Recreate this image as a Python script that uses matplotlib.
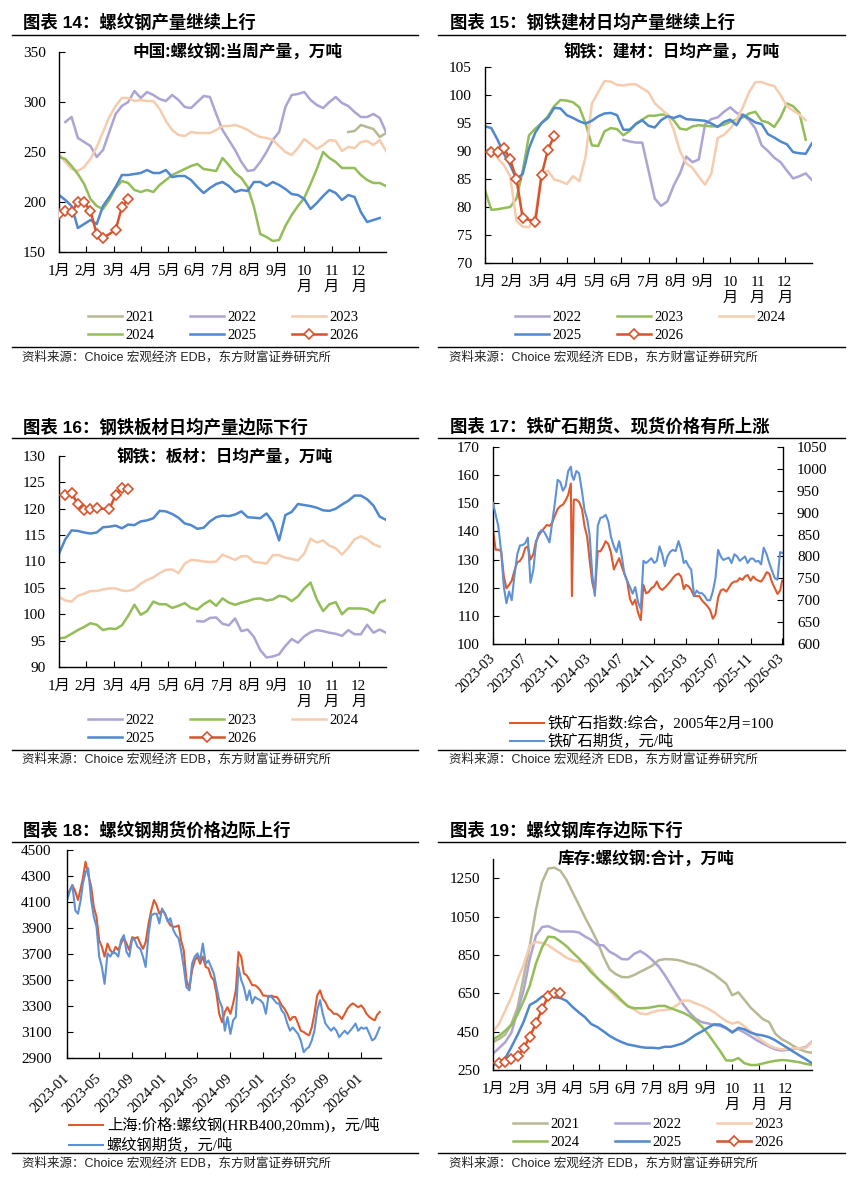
import numpy as np
import pandas as pd
import matplotlib
matplotlib.use('Agg')
import matplotlib.pyplot as plt
from matplotlib.lines import Line2D
from matplotlib.font_manager import FontProperties

W, H = 861, 1182
SERIF = ['Liberation Serif', 'Noto Sans CJK SC']
SANS = ['Liberation Sans', 'Noto Sans CJK SC']
CJK = ['Noto Sans CJK SC', 'Liberation Serif']
plt.rcParams['font.family'] = SERIF
plt.rcParams['axes.unicode_minus'] = False

# ---------------- data ----------------
MONTHS = ['1月', '2月', '3月', '4月', '5月', '6月', '7月', '8月', '9月', '10\n月', '11\n月', '12\n月']
SOURCE = '资料来源：Choice 宏观经济 EDB，东方财富证券研究所'

# Figure 14: rebar weekly output (10k t), weekly index from week 0
p14_2021 = [None] * 46 + [270, 271, 277, 275, 273, 265, 269]
p14_2022 = [None, 280, 285, 264, 260, 256, 245, 252, 270, 288, 296, 300, 311, 304, 310, 307, 303, 301, 307, 302,
            295, 294, 300, 306, 305, 288, 272, 262, 252, 240, 231, 232, 240, 250, 262, 270, 295, 307, 308, 310,
            302, 297, 294, 300, 305, 299, 296, 290, 285, 285, 288, 284, 270]
p14_2023 = [248, 240, 233, 231, 235, 243, 255, 270, 285, 296, 304, 304, 301, 302, 301, 301, 293, 281, 272, 267,
            266, 270, 269, 269, 269, 272, 276, 276, 277, 275, 272, 268, 265, 264, 262, 256, 250, 247, 254, 263,
            258, 253, 257, 262, 261, 251, 255, 254, 260, 261, 257, 262, 251]
p14_2024 = [245, 243, 236, 228, 218, 203, 196, 193, 202, 214, 221, 219, 212, 210, 212, 210, 217, 222, 227, 230,
            233, 236, 238, 233, 232, 231, 244, 237, 229, 224, 215, 195, 168, 165, 161, 162, 176, 187, 196, 204,
            218, 233, 250, 244, 240, 234, 234, 234, 227, 222, 219, 219, 216]
p14_2025 = [207, 202, 196, 174, 178, 182, 178, 196, 205, 215, 227, 227, 228, 229, 232, 229, 229, 232, 225, 226,
            226, 222, 215, 209, 214, 218, 220, 216, 210, 212, 211, 220, 220, 216, 220, 217, 213, 208, 207, 203,
            193, 199, 206, 212, 209, 202, 207, 205, 190, 180, 182, 184]
p14_2026 = [188, 191, 190, 200, 200, 191, 168, 164, None, 172, 195, 203]

# Figure 15: construction steel daily output (10k t)
p15_2022 = [None] * 22 + [92.0, 91.7, 91.5, 91.5, 86.5, 81.5, 80.2, 81.0, 83.8, 86.0, 89.0, 88.0, 88.5, 94.8,
                          95.7, 96.0, 97.0, 97.8, 96.8, 96.4, 95.5, 94.0, 91.0, 90.0, 88.8, 88.0, 86.5, 85.1,
                          85.5, 86.0, 84.8]
p15_2023 = [83.0, 79.5, 79.6, 79.8, 80.0, 81.5, 86.5, 92.8, 94.0, 95.0, 96.2, 98.0, 99.1, 99.0, 98.7, 97.8, 94.9,
            91.0, 90.9, 93.5, 94.1, 93.9, 92.8, 93.6, 94.9, 95.6, 96.3, 96.3, 96.5, 96.5, 95.5, 94.0, 93.8, 94.4,
            94.6, 94.5, 94.4, 94.4, 94.7, 95.2, 95.6, 96.0, 96.7, 97.0, 95.4, 95.1, 94.3, 96.0, 98.5, 98.0, 96.8,
            92.0]
p15_2024 = [90.0, 90.6, 88.7, 87.5, 85.5, 77.5, 76.5, 76.4, 78.5, 86.0, 86.5, 84.9, 84.6, 84.1, 85.5, 84.6, 89.0,
            98.5, 100.5, 102.5, 102.4, 101.8, 101.7, 101.9, 101.9, 101.2, 100.5, 98.5, 97.5, 96.5, 93.8, 90.0,
            87.8, 87.0, 85.4, 84.0, 86.0, 92.3, 92.9, 94.0, 95.5, 97.8, 100.5, 102.3, 102.3, 101.9, 101.6, 100.0,
            98.0, 97.2, 96.5, 95.5]
p15_2025 = [94.4, 94.1, 92.0, 89.5, 87.5, 85.0, 85.9, 90.5, 93.3, 95.0, 95.9, 97.7, 97.6, 96.4, 95.9, 95.3, 94.9,
            95.4, 96.2, 96.7, 96.8, 96.4, 93.8, 93.8, 94.8, 95.5, 94.5, 94.2, 95.5, 96.2, 95.9, 96.3, 95.7, 95.6,
            95.5, 95.4, 94.9, 94.3, 95.2, 95.6, 94.6, 96.5, 95.8, 95.1, 94.8, 93.0, 92.4, 91.7, 91.2, 89.8, 89.6,
            89.5, 91.4]
p15_2026 = [None, 89.8, 89.9, 90.5, 88.5, 85.0, 78.0, None, 77.4, 85.7, 90.2, 92.7]

# Figure 16: plate daily output (10k t)
p16_2022 = [None] * 22 + [98.7, 98.6, 99.3, 99.4, 98.2, 97.9, 99.2, 96.8, 97.1, 95.7, 93.2, 91.8, 92.0, 92.4,
                          94.0, 95.3, 94.6, 95.8, 96.6, 97.0, 96.8, 96.5, 96.3, 95.9, 97.0, 96.2, 96.2, 98.0,
                          96.5, 97.1, 96.5]
p16_2023 = [95.4, 95.6, 96.3, 97.0, 97.6, 98.3, 98.0, 97.0, 97.3, 97.2, 97.9, 99.7, 101.8, 99.9, 100.6, 102.4,
            101.9, 101.9, 101.2, 101.6, 102.1, 101.2, 100.9, 101.9, 102.6, 101.6, 103.0, 102.2, 101.8, 102.2,
            102.5, 102.9, 103.0, 102.6, 102.8, 103.5, 103.3, 102.5, 103.4, 104.9, 106.0, 102.8, 100.6, 101.9,
            102.3, 100.0, 101.1, 101.1, 101.1, 100.9, 100.2, 102.2, 102.7]
p16_2024 = [103.3, 102.6, 102.4, 103.5, 103.9, 104.4, 104.4, 104.7, 104.9, 104.9, 104.5, 104.4, 104.8, 105.8,
            106.5, 107.0, 107.8, 108.4, 108.5, 107.8, 109.6, 110.3, 110.2, 110.0, 109.9, 110.0, 111.3, 110.8,
            110.3, 111.0, 111.0, 109.9, 109.8, 109.6, 111.2, 111.2, 110.7, 110.5, 110.2, 111.5, 114.3, 113.6,
            114.0, 113.0, 112.5, 111.3, 112.6, 114.2, 114.8, 114.2, 113.3, 112.8]
p16_2025 = [111.5, 114.2, 115.9, 115.8, 115.5, 115.3, 115.5, 116.5, 116.6, 116.8, 116.3, 117.0, 116.9, 117.6,
            117.8, 118.2, 119.6, 119.5, 119.0, 118.3, 117.2, 116.9, 116.2, 116.4, 117.6, 118.4, 118.7, 118.6,
            118.9, 119.5, 118.4, 118.3, 118.2, 119.1, 117.5, 114.0, 118.8, 119.4, 120.9, 120.7, 120.5, 120.2,
            119.7, 119.6, 120.0, 120.8, 121.5, 122.5, 122.5, 121.8, 120.6, 118.5, 117.9]
p16_2026 = [None, 122.6, 122.9, 120.9, 119.7, 119.9, 120.1, None, 119.9, 122.6, 123.9, 123.7]

# Figure 19: rebar inventory (10k t)
p19_2021 = [395, 412, 435, 490, 575, 737, 900, 1085, 1230, 1300, 1305, 1288, 1240, 1175, 1111, 1045, 985, 920,
            841, 775, 750, 735, 733, 745, 762, 778, 795, 822, 828, 827, 824, 816, 805, 798, 785, 768, 750, 725,
            700, 640, 655, 615, 575, 545, 515, 500, 440, 412, 395, 375, 358, 345, 340]
p19_2022 = [335, 365, 395, 445, 555, 667, 830, 950, 995, 1000, 985, 972, 972, 972, 967, 946, 928, 902, 900, 867,
            850, 828, 827, 855, 870, 850, 822, 790, 745, 693, 641, 592, 550, 518, 500, 493, 485, 480, 467, 450,
            462, 445, 426, 405, 388, 372, 358, 352, 355, 360, 363, 370, 398]
p19_2023 = [450, 492, 560, 630, 720, 800, 900, 918, 912, 900, 878, 857, 835, 822, 815, 806, 775, 728, 695, 665,
            630, 605, 582, 565, 545, 540, 552, 560, 563, 567, 589, 612, 612, 597, 586, 570, 552, 528, 505, 492,
            500, 478, 450, 425, 400, 378, 365, 358, 360, 363, 363, 365, 395]
p19_2024 = [410, 428, 455, 485, 540, 610, 690, 805, 890, 945, 942, 920, 895, 862, 832, 797, 760, 730, 700, 672,
            645, 612, 582, 572, 572, 573, 578, 584, 584, 572, 560, 548, 532, 508, 478, 440, 395, 350, 300, 299,
            312, 285, 276, 276, 284, 292, 298, 302, 300, 295, 290, 282, 276]
p19_2025 = [276, 285, 311, 370, 433, 502, 589, 607, 633, 636, 630, 625, 610, 578, 550, 525, 490, 474, 452, 428,
            410, 395, 383, 377, 370, 366, 366, 363, 371, 371, 380, 390, 410, 433, 450, 470, 488, 487, 470, 445,
            470, 462, 445, 435, 430, 421, 405, 385, 365, 345, 325, 306, 285]
p19_2026 = [None, 288, 293, 306, 323, 363, 424, 493, 567, 636, 653, 653]

# Figure 17: iron ore index (left) and futures (right), sampled on days 1/11/21
p17_months = [str(p) for p in pd.period_range('2023-03', '2026-02', freq='M')]
p17_dates = [f'{m}-{d:02d}' for m in p17_months for d in (1, 11, 21)] + ['2026-03-01']
p17_dates.insert(p17_dates.index('2023-12-21') + 1, '2023-12-25')
p17_index = [140.6, 133.5, 133.5, 133.0, 124.0, 119.8, 121.0, 122.5, 126.0, 129.0, 129.5, 131.0,
             134.1, 134.7, 130.0, 132.0, 136.5, 138.5, 140.0, 141.2, 142.3, 142.0, 143.0, 145.5,
             148.0, 149.0, 149.5, 151.0, 153.0, 157.0, 117.0, 151.3, 151.3, 150.5, 148.0, 141.8, 138.0,
             130.0, 122.0, 118.0, 133.0, 132.9, 134.5, 136.5, 135.5, 132.5, 126.5, 128.5, 130.5,
             127.5, 125.0, 122.5, 116.0, 114.0, 115.7, 111.0, 108.5, 121.0, 118.0, 118.5, 119.8,
             120.5, 122.2, 120.0, 119.2, 120.0, 121.0, 122.2, 123.5, 124.5, 125.0, 124.0, 119.5,
             121.0, 120.5, 119.2, 117.0, 117.0, 117.0, 115.5, 114.5, 113.5, 112.0, 109.0, 110.5,
             116.5, 119.0, 119.5, 118.6, 120.0, 121.5, 122.2, 122.2, 123.4, 122.8, 124.0, 124.5,
             122.5, 124.0, 123.0, 122.5, 122.2, 123.5, 125.5, 125.0, 122.0, 119.8, 117.8, 119.0, 122.5]
p17_futures = [922, 895, 870, 810, 731, 693, 720, 700, 755, 805, 825, 826, 830, 843, 740, 770, 830, 853,
               860, 856, 845, 832, 876, 920, 975, 970, 950, 960, 995, 1005, 985, 975, 995, 990, 950, 905, 885,
               850, 760, 710, 870, 888, 890, 895, 880, 845, 823, 810, 835, 800, 760, 745, 730, 715, 730,
               695, 680, 790, 785, 790, 796, 785, 790, 823, 805, 778, 800, 811, 815, 812, 835, 815, 785,
               790, 778, 770, 710, 722, 716, 716, 710, 700, 700, 720, 750, 815, 800, 792, 795, 797, 785,
               805, 800, 790, 795, 800, 785, 795, 795, 788, 790, 782, 820, 805, 785, 768, 750, 747, 810, 808]
p17_ticks = ['2023-03', '2023-07', '2023-11', '2024-03', '2024-07', '2024-11', '2025-03', '2025-07',
             '2025-11', '2026-03']

# Figure 18: rebar spot (Shanghai) and futures, sampled on days 1/11/21
p18_months = [str(p) for p in pd.period_range('2023-01', '2026-02', freq='M')]
p18_dates = [f'{m}-{d:02d}' for m in p18_months for d in (1, 11, 21)] + ['2026-03-01', '2026-03-11']
p18_spot = [4140, 4190, 4230, 4180, 4115, 4205, 4280, 4410, 4310, 4220, 4060, 3985, 3805, 3755, 3680,
            3780, 3730, 3705, 3755, 3730, 3780, 3820, 3780, 3730, 3830, 3820, 3830, 3780, 3740, 3790,
            3935, 4035, 4115, 4075, 4010, 4035, 4010, 3960, 3920, 3910, 3910, 3920, 3805, 3730, 3500,
            3435, 3575, 3650, 3680, 3625, 3680, 3600, 3590, 3525, 3500, 3395, 3240, 3175, 3255, 3290,
            3240, 3320, 3420, 3715, 3680, 3550, 3535, 3500, 3460, 3460, 3445, 3420, 3380, 3380, 3370,
            3380, 3370, 3370, 3345, 3305, 3280, 3240, 3190, 3215, 3215, 3165, 3110, 3100, 3085, 3075,
            3135, 3240, 3380, 3420, 3355, 3330, 3280, 3265, 3240, 3240, 3225, 3200, 3240, 3280, 3305,
            3320, 3305, 3290, 3305, 3280, 3240, 3215, 3200, 3190, 3230, 3255]
p18_futures = [4115, 4180, 4230, 4035, 4010, 4115, 4240, 4330, 4360, 4115, 3985, 3910, 3680, 3600, 3470,
               3705, 3680, 3715, 3705, 3680, 3805, 3845, 3715, 3680, 3820, 3805, 3755, 3740, 3680, 3600,
               3855, 3995, 4010, 4010, 3935, 4050, 4010, 3950, 3975, 3885, 3845, 3820, 3730, 3600, 3445,
               3420, 3625, 3680, 3705, 3650, 3780, 3625, 3650, 3600, 3550, 3445, 3345, 3290, 3110, 3215,
               3085, 3190, 3215, 3600, 3500, 3445, 3345, 3420, 3320, 3370, 3355, 3345, 3320, 3240, 3380,
               3370, 3345, 3320, 3320, 3265, 3240, 3165, 3110, 3135, 3110, 3085, 3035, 2945, 2970, 2985,
               3035, 3110, 3265, 3345, 3240, 3165, 3135, 3110, 3135, 3110, 3060, 3085, 3110, 3085, 3110,
               3135, 3165, 3110, 3135, 3125, 3135, 3085, 3035, 3050, 3085, 3135]
p18_ticks = ['2023-01', '2023-05', '2023-09', '2024-01', '2024-05', '2024-09', '2025-01', '2025-05',
             '2025-09', '2026-01']

# ---------------- style ----------------
COL_A = {'2021': '#B8B894', '2022': '#ADA4D4', '2023': '#F6CCAE', '2024': '#93BD58', '2025': '#4F88CE',
         '2026': '#D8532B'}
COL_B = {'2022': '#ADA4D4', '2023': '#93BD58', '2024': '#F6CCAE', '2025': '#4F88CE', '2026': '#D8532B'}
RED = '#DE5A2E'
BLUE = '#5E91D6'

fig = plt.figure(figsize=(W / 100, H / 100), dpi=100)


def fx(x):
    return x / W


def fy(y):
    return 1 - y / H


def ax_px(l, t, r, b):
    return fig.add_axes([fx(l), fy(b), (r - l) / W, (b - t) / H])


def frame(x0, x1, tx, ty, title, uline, sline, sy):
    fig.text(fx(tx), fy(ty), title, fontsize=12.5, fontweight='bold', family=SANS, va='center', ha='left')
    fig.add_artist(Line2D([fx(x0), fx(x1)], [fy(uline)] * 2, color='black', lw=1.0))
    fig.add_artist(Line2D([fx(x0), fx(x1)], [fy(sline)] * 2, color='black', lw=1.0))
    fig.text(fx(tx - 1), fy(sy), SOURCE, fontsize=9, family=SANS, va='center', ha='left', color='#222222')


def style_axes(ax):
    for s in ['top', 'right']:
        ax.spines[s].set_visible(False)
    for s in ['left', 'bottom']:
        ax.spines[s].set_linewidth(1.0)
    ax.tick_params(direction='in', length=4, width=0.8, labelsize=11)
    ax.tick_params(axis='y', pad=9.5)


def seasonal(rect, data, colors, ylim, yticks, subtitle, sub_xy, leg_xy):
    ax = ax_px(*rect)
    handles = []
    for yr, vals in data.items():
        arr = np.array([np.nan if v is None else v for v in vals], float)
        wk = np.arange(len(arr))
        ok = ~np.isnan(arr)
        x = wk[ok] * 12 / 52
        if yr == '2026':
            ln, = ax.plot(x, arr[ok], color=colors[yr], lw=1.8, marker='D', ms=5, mfc='white',
                          mec=colors[yr], mew=1.2, label=yr, zorder=5)
        else:
            ln, = ax.plot(x, arr[ok], color=colors[yr], lw=1.8, label=yr)
        handles.append(ln)
    ax.set_xlim(0, 12)
    ax.set_ylim(*ylim)
    ax.set_yticks(yticks)
    ax.set_xticks(np.arange(12))
    ax.set_xticklabels(MONTHS, family=SERIF, fontsize=10.5, linespacing=1.3)
    style_axes(ax)
    ax.tick_params(axis='x', pad=9.2)
    fig.text(fx(sub_xy[0]), fy(sub_xy[1]), subtitle, fontsize=12, fontweight='bold', family=CJK,
             ha='center', va='center')
    n = len(handles)
    order = [0, 3, 1, 4, 2, 5] if n == 6 else [0, 3, 1, 4, 2]
    fig.legend([handles[i] for i in order], [handles[i].get_label() for i in order],
               loc='upper left', bbox_to_anchor=(fx(leg_xy[0]), fy(leg_xy[1])), ncol=3, frameon=False,
               borderpad=0, borderaxespad=0, handlelength=2.33, handletextpad=0.22, columnspacing=2.45,
               labelspacing=0.33, prop=FontProperties(family=SERIF, size=10.5))
    return ax


# ---------------- panels ----------------
# Figure 14
frame(12, 418, 23, 22, '图表 14：螺纹钢产量继续上行', 35, 347, 357)
seasonal((59, 52, 386, 252),
         {'2021': p14_2021, '2022': p14_2022, '2023': p14_2023, '2024': p14_2024, '2025': p14_2025,
          '2026': p14_2026},
         COL_A, (150, 350), np.arange(150, 351, 50), '中国:螺纹钢:当周产量，万吨', (237, 53), (88, 311))

# Figure 15
frame(438, 845, 450, 22, '图表 15：钢铁建材日均产量继续上行', 35, 347, 357)
seasonal((485, 67, 812, 263),
         {'2022': p15_2022, '2023': p15_2023, '2024': p15_2024, '2025': p15_2025, '2026': p15_2026},
         COL_B, (70, 105), np.arange(70, 106, 5), '钢铁：建材：日均产量，万吨', (672, 53), (515, 311))

# Figure 16
frame(12, 418, 23, 427, '图表 16：钢铁板材日均产量边际下行', 438, 750, 759)
seasonal((59, 456, 386, 667),
         {'2022': p16_2022, '2023': p16_2023, '2024': p16_2024, '2025': p16_2025, '2026': p16_2026},
         COL_B, (90, 130), np.arange(90, 131, 5), '钢铁：板材：日均产量，万吨', (225, 458), (88, 714))

# Figure 19
frame(438, 845, 450, 830, '图表 19：螺纹钢库存边际下行', 842, 1153, 1163)
seasonal((493, 859, 812, 1070),
         {'2021': p19_2021, '2022': p19_2022, '2023': p19_2023, '2024': p19_2024, '2025': p19_2025,
          '2026': p19_2026},
         COL_A, (250, 1350), np.arange(250, 1251, 200), '库存:螺纹钢:合计，万吨', (646, 860), (513, 1118))

# Figure 17
frame(438, 845, 450, 426, '图表 17：铁矿石期货、现货价格有所上涨', 438, 750, 759)
ax17 = ax_px(493, 447, 783, 644)
d17 = pd.to_datetime(p17_dates)
l1, = ax17.plot(d17, p17_index, color=RED, lw=1.5)
ax17b = ax17.twinx()
l2, = ax17b.plot(d17, p17_futures, color=BLUE, lw=1.5)
ax17.set_xlim(pd.Timestamp('2023-03-01'), pd.Timestamp('2026-03-04'))
ax17.set_ylim(100, 170)
ax17.set_yticks(np.arange(100, 171, 10))
ax17b.set_ylim(600, 1050)
ax17b.set_yticks(np.arange(600, 1051, 50))
style_axes(ax17)
ax17.spines['right'].set_visible(False)
ax17b.spines['top'].set_visible(False)
ax17b.spines['left'].set_visible(False)
ax17b.spines['bottom'].set_visible(False)
ax17b.spines['right'].set_linewidth(1.0)
ax17b.tick_params(direction='in', length=4, width=0.8, labelsize=11, pad=10)
ax17.set_xticks(pd.to_datetime(p17_ticks))
ax17.set_xticklabels(p17_ticks, rotation=45, ha='right', va='center', rotation_mode='anchor', fontsize=10.5)
ax17.tick_params(axis='x', pad=9)
fig.legend([l1, l2], ['铁矿石指数:综合，2005年2月=100', '铁矿石期货，元/吨'], loc='upper left',
           bbox_to_anchor=(fx(510), fy(716)), frameon=False, borderpad=0, borderaxespad=0,
           handlelength=2.2, handletextpad=0.27, labelspacing=0.2,
           prop=FontProperties(family=SERIF, size=11))

# Figure 18
frame(12, 418, 23, 830, '图表 18：螺纹钢期货价格边际上行', 842, 1153, 1163)
ax18 = ax_px(67, 850, 381, 1058)
d18 = pd.to_datetime(p18_dates)
m1, = ax18.plot(d18, p18_spot, color=RED, lw=1.5)
m2, = ax18.plot(d18, p18_futures, color=BLUE, lw=1.5)
ax18.set_xlim(pd.Timestamp('2023-01-01'), pd.Timestamp('2026-03-16'))
ax18.set_ylim(2900, 4500)
ax18.set_yticks(np.arange(2900, 4501, 200))
style_axes(ax18)
ax18.tick_params(axis='y', pad=11)
ax18.set_xticks(pd.to_datetime(p18_ticks))
ax18.set_xticklabels(p18_ticks, rotation=45, ha='right', va='center', rotation_mode='anchor', fontsize=10.5)
ax18.tick_params(axis='x', pad=13)
fig.legend([m1, m2], ['上海:价格:螺纹钢(HRB400,20mm)，元/吨', '螺纹钢期货，元/吨'], loc='upper left',
           bbox_to_anchor=(fx(69), fy(1117)), frameon=False, borderpad=0, borderaxespad=0,
           handlelength=2.2, handletextpad=0.27, labelspacing=0.3,
           prop=FontProperties(family=SERIF, size=11))

fig.savefig('out.png', dpi=100)
